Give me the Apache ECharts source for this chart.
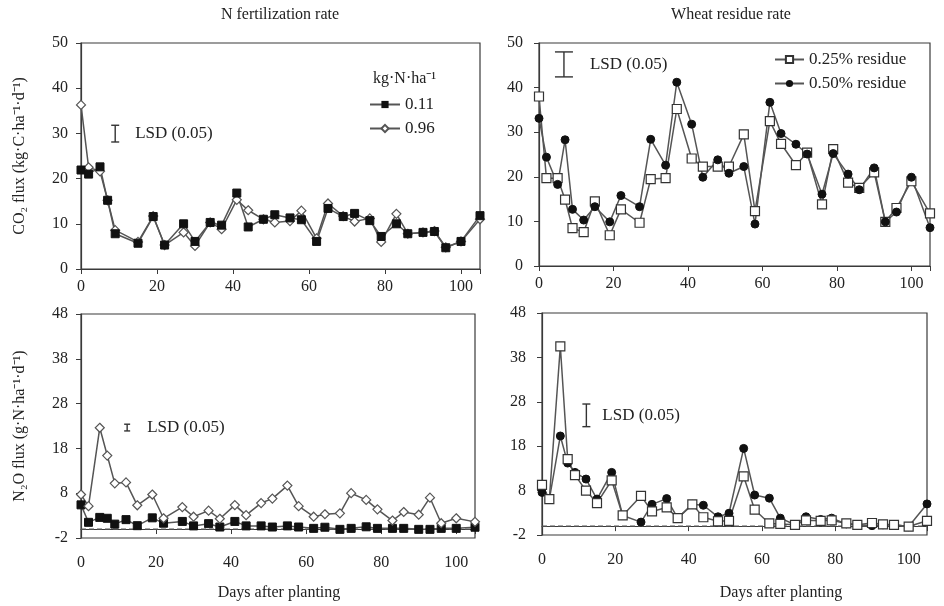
<!DOCTYPE html>
<html><head><meta charset="utf-8">
<script src="https://cdn.jsdelivr.net/npm/echarts@6/dist/echarts.min.js"></script>
<style>html,body{margin:0;padding:0;background:#fff}#c{width:944px;height:606px}</style>
</head><body><div id="c"></div>
<script>
// ---------- data ----------
const daysCO2N = [0,2,5,7,9,15,19,22,27,30,34,37,41,44,48,51,55,58,62,65,69,72,76,79,83,86,90,93,96,100,105];
const co2N011 = [21.9,21.0,22.6,15.2,7.8,5.7,11.6,5.3,10.0,6.1,10.3,9.7,16.8,9.3,11.0,12.0,11.3,10.9,6.1,13.4,11.6,12.3,10.7,7.2,10.0,7.8,8.1,8.3,4.7,6.1,11.8];
const co2N096 = [36.3,22.5,21.6,15.2,8.6,6.0,11.7,5.3,8.1,5.1,10.3,8.8,15.3,13.0,11.0,10.3,10.6,12.9,6.8,14.5,11.7,10.5,11.2,6.0,12.2,7.8,8.1,8.4,4.8,6.1,11.0];

const days = [0,2,5,7,9,12,15,19,22,27,30,34,37,41,44,48,51,55,58,62,65,69,72,76,79,83,86,90,93,96,100,105];
const co2R025 = [38.0,19.7,19.7,14.9,8.5,7.6,14.5,6.9,12.7,9.7,19.5,19.7,35.2,24.1,22.3,22.3,22.3,29.5,12.3,32.5,27.4,22.6,25.4,13.8,26.2,18.7,17.5,21.0,9.9,13.0,19.0,11.8];
const co2R050 = [33.1,24.4,18.3,28.3,12.7,10.3,13.3,9.9,15.8,13.3,28.4,22.6,41.2,31.8,19.9,23.8,20.8,22.3,9.4,36.7,29.7,27.3,25.1,16.1,25.2,20.6,17.1,22.0,9.9,12.1,19.9,8.6];

const n2oN011 = [5.4,1.5,2.6,2.4,1.1,2.1,0.75,2.5,1.3,1.7,0.7,1.2,0.45,1.7,0.7,0.7,0.45,0.7,0.45,0.15,0.4,-0.07,0.15,0.5,0.15,0.15,0.15,-0.07,-0.07,0.15,0.15,0.4];
const n2oN096 = [7.7,5.1,22.6,16.4,10.2,10.4,5.3,7.7,2.4,4.9,2.75,4.1,2.3,5.35,3.1,5.8,6.8,9.7,5.1,2.75,3.3,3.5,8.0,6.5,4.4,1.9,3.8,3.2,7.0,1.3,2.4,1.6];
const n2oR025 = [9.3,6.1,40.5,15.1,11.5,8.0,5.2,10.3,2.4,6.8,3.3,4.2,1.8,4.9,2.0,1.1,1.2,11.2,3.7,0.6,0.5,0.3,1.3,1.2,1.3,0.6,0.3,0.7,0.4,0.3,-0.1,1.2];
const n2oR050 = [7.6,6.0,20.3,14.2,12.1,10.6,6.1,12.1,2.4,0.9,4.9,6.2,1.8,4.9,4.7,2.1,2.9,17.5,7.0,6.3,1.8,0.3,2.1,1.5,1.8,0.5,0.3,0.1,0.3,0.3,-0.1,5.0];

// zero-flux reference level (dashed line in N2O panels)
const zeroFlux = 0;

// LSD bars: [day, low, high]
const lsdCO2N = [9, 28.1, 31.8];
const lsdCO2R = [6.7, 42.4, 48.0];
const lsdN2ON = [12.3, 21.9, 23.4];
const lsdN2OR = [12.1, 22.4, 27.5];

const co2Ticks = [0, 50, 10];   // min, max, interval
const n2oTicks = [-2, 48, 10];
const dayTicks = [0, 105, 20];

const seriesNames = ['0.11', '0.96', '0.25% residue', '0.50% residue'];

// ---------- chart ----------
const FONT = '"Liberation Serif", "Times New Roman", serif';
const TXT = '#222';
const AX = '#3a3a3a';
const LINE = '#555';
const chart = echarts.init(document.getElementById('c'));
const pairs = (d, v) => d.map((x, i) => [x, v[i]]);

const grids = [
  {left: 81, top: 43, width: 399, height: 226},
  {left: 539, top: 43, width: 391, height: 223},
  {left: 81, top: 314, width: 394, height: 224},
  {left: 542, top: 313, width: 385, height: 222}
].map(g => Object.assign({show: true, borderColor: AX, borderWidth: 1.2, backgroundColor: 'transparent'}, g));

const xAxes = grids.map((g, i) => ({
  type: 'value', gridIndex: i, min: dayTicks[0], max: dayTicks[1], interval: dayTicks[2],
  axisLine: {lineStyle: {color: AX, width: 1.2}},
  axisTick: {length: 5, lineStyle: {color: AX}},
  splitLine: {show: false},
  axisLabel: {formatter: v => (v % 20 === 0 ? String(v) : ''), margin: i < 2 ? 10 : 17,
    fontFamily: FONT, fontSize: 16, color: TXT}
}));

const yAxes = grids.map((g, i) => {
  const t = i < 2 ? co2Ticks : n2oTicks;
  const ax = {
    type: 'value', gridIndex: i, min: t[0], max: t[1], interval: t[2],
    axisLine: {lineStyle: {color: AX, width: 1.2}},
    axisTick: {length: 5, lineStyle: {color: AX}},
    splitLine: {show: false},
    axisLabel: {margin: i % 2 === 0 ? 13 : 16, fontFamily: FONT, fontSize: 16, color: TXT}
  };
  if (i === 0 || i === 2) {
    ax.name = i === 0 ? 'CO\u2082 flux (kg\u00b7C\u00b7ha\u207b\u00b9\u00b7d\u207b\u00b9)' : 'N\u2082O flux (g\u00b7N\u00b7ha\u207b\u00b9\u00b7d\u207b\u00b9)';
    ax.nameLocation = 'middle';
    ax.nameGap = 53;
    ax.nameTextStyle = {fontFamily: FONT, fontSize: 16, color: TXT};
  }
  return ax;
});

const filledSquare = {symbol: 'rect', symbolSize: 8, itemStyle: {color: '#111', borderColor: '#111'}};
const openDiamond = {symbol: 'diamond', symbolSize: 9, itemStyle: {color: '#fff', borderColor: '#555', borderWidth: 1.2}};
const openSquare = {symbol: 'rect', symbolSize: 9, itemStyle: {color: '#fff', borderColor: '#333', borderWidth: 1.2}};
const filledCircle = {symbol: 'circle', symbolSize: 8, itemStyle: {color: '#111', borderColor: '#111'}};

function line(name, gi, data, sym, extra) {
  return Object.assign({
    type: 'line', name, xAxisIndex: gi, yAxisIndex: gi, data,
    showSymbol: true, showAllSymbol: true, silent: true, z: 3,
    lineStyle: {color: LINE, width: 1.5}
  }, sym, extra || {});
}

function zeroRef(gi) {
  return {
    type: 'line', name: 'zero' + gi, xAxisIndex: gi, yAxisIndex: gi, silent: true, z: 2,
    data: [[dayTicks[0], zeroFlux], [dayTicks[1], zeroFlux]],
    showSymbol: false, symbol: 'none',
    lineStyle: {type: [5, 3], color: '#555', width: 1.2}
  };
}

function lsd(gi, v, cap, gap) {
  return {
    type: 'custom', xAxisIndex: gi, yAxisIndex: gi, silent: true, z: 5,
    data: [v], encode: {x: 0, y: [1, 2]},
    renderItem: (params, api) => {
      const t = api.coord([api.value(0), api.value(2)]);
      const b = api.coord([api.value(0), api.value(1)]);
      const cx = t[0];
      const st = {stroke: '#333', lineWidth: 1.4};
      return {type: 'group', children: [
        {type: 'line', shape: {x1: cx, y1: t[1], x2: cx, y2: b[1]}, style: st},
        {type: 'line', shape: {x1: cx - cap, y1: t[1], x2: cx + cap, y2: t[1]}, style: st},
        {type: 'line', shape: {x1: cx - cap, y1: b[1], x2: cx + cap, y2: b[1]}, style: st},
        {type: 'text', x: cx + gap, y: (t[1] + b[1]) / 2,
          style: {text: 'LSD (0.05)', font: '17px ' + FONT, fill: TXT, align: 'left', verticalAlign: 'middle'}}
      ]};
    }
  };
}

const series = [
  zeroRef(2),
  zeroRef(3),
  line(seriesNames[1], 0, pairs(daysCO2N, co2N096), openDiamond),
  line(seriesNames[0], 0, pairs(daysCO2N, co2N011), filledSquare),
  line(seriesNames[0], 2, pairs(days, n2oN011), filledSquare),
  line(seriesNames[1], 2, pairs(days, n2oN096), openDiamond),
  line(seriesNames[2], 1, pairs(days, co2R025), openSquare),
  line(seriesNames[3], 1, pairs(days, co2R050), filledCircle),
  line(seriesNames[3], 3, pairs(days, n2oR050), filledCircle),
  line(seriesNames[2], 3, pairs(days, n2oR025), openSquare),
  lsd(0, lsdCO2N, 4, 20),
  lsd(1, lsdCO2R, 9, 26),
  lsd(2, lsdN2ON, 3, 20),
  lsd(3, lsdN2OR, 4, 16)
];

const txt = (text, x, y, align) => ({type: 'text', x, y,
  style: {text, font: '16px ' + FONT, fill: TXT, align: align || 'center', verticalAlign: 'middle'}});

chart.setOption({
  animation: false,
  backgroundColor: '#fff',
  grid: grids, xAxis: xAxes, yAxis: yAxes,
  legend: [
    {data: [seriesNames[0], seriesNames[1]], orient: 'vertical', left: 369, top: 96, padding: 0,
      itemWidth: 30, itemHeight: 9, itemGap: 7, selectedMode: false,
      textStyle: {fontFamily: FONT, fontSize: 17, color: TXT}},
    {data: [seriesNames[2], seriesNames[3]], orient: 'vertical', left: 774, top: 51, padding: 0,
      itemWidth: 29, itemHeight: 9, itemGap: 7, selectedMode: false,
      textStyle: {fontFamily: FONT, fontSize: 17, color: TXT}}
  ],
  graphic: [
    txt('N fertilization rate', 280, 15),
    txt('Wheat residue rate', 731, 15),
    txt('Days after planting', 279, 593),
    txt('Days after planting', 781, 593),
    txt('kg\u00b7N\u00b7ha\u207b\u00b9', 373, 79, 'left')
  ],
  series
});
</script>
</body></html>
